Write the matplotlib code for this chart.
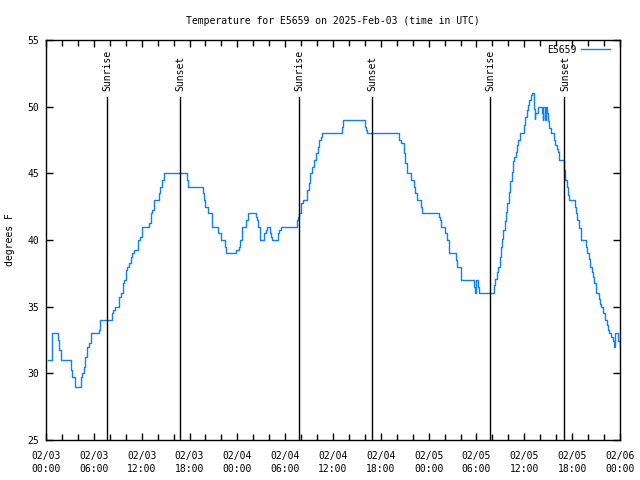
import matplotlib.pyplot as plt
from matplotlib.ticker import MultipleLocator

# hours since 2025-02-03 00:00 UTC and temperature (degrees F)
day1_hours = [0.2, 0.7, 0.8, 1.5, 1.65, 1.85, 3.15, 3.3, 3.6, 4.4,
              4.55, 4.75, 4.95, 5.15, 5.35, 5.6, 6.6, 6.8, 8.3, 8.4,
              8.6, 9.2, 9.4, 9.6, 9.8, 10.0, 10.2, 10.4, 10.6, 10.8,
              11.0, 11.6, 11.8, 12.04, 12.96, 13.13, 13.3, 13.55, 14.14, 14.3,
              14.55, 14.8, 17.65, 17.85, 19.65, 19.8, 20.0, 20.35, 20.8, 21.6,
              21.9, 22.4, 22.6, 23.8]
day1_temps = [31, 32, 33, 32.5, 31.75, 31, 30.25, 29.75, 29, 29.75,
              30, 30.5, 31.25, 32, 32.25, 33, 33.25, 34, 34.5, 34.75,
              35, 35.75, 36, 36.75, 37, 37.75, 38, 38.25, 38.75, 39,
              39.25, 40, 40.25, 41, 41.25, 42, 42.25, 43, 43.5, 44,
              44.5, 45, 44.5, 44, 43.5, 43, 42.5, 42, 41, 40.5,
              40, 39.5, 39, 39.25]

day2_hours = [24.2, 24.3, 24.6, 25.1, 25.4, 26.3, 26.5, 26.6, 26.85, 27.4,
              27.55, 27.7, 28.1, 28.2, 28.4, 29.15, 29.25, 29.45, 31.45, 31.55,
              31.7, 32.0, 32.2, 32.7, 32.8, 33.0, 33.1, 33.4, 33.6, 33.9,
              34.1, 34.3, 34.45, 34.65, 37.1, 37.3, 40.05, 40.15, 40.3, 44.3,
              44.5, 44.9, 45.05, 45.25, 45.8, 46.1, 46.3, 46.5, 47.0, 47.15]
day2_temps = [39.5, 40, 41, 41.5, 42, 41.75, 41.5, 41, 40, 40.5,
              40.75, 41, 40.5, 40.25, 40, 40.5, 40.75, 41, 41.5, 41.75,
              42, 42.75, 43, 43.5, 43.75, 44.25, 45, 45.5, 46, 46.5,
              47, 47.5, 47.75, 48, 48.5, 49, 48.5, 48.25, 48, 47.5,
              47.25, 46.5, 45.75, 45, 44.5, 44, 43.5, 43, 42.5, 42]

day3_hours = [49.3, 49.4, 49.6, 50.05, 50.25, 50.55, 51.4, 51.5, 52.1, 53.7,
              53.85, 53.95, 54.15, 54.35, 56.2, 56.35, 56.55, 56.7, 56.9, 57.05,
              57.2, 57.35, 57.55, 57.7, 57.85, 58.05, 58.2, 58.4, 58.55, 58.7,
              58.9, 59.05, 59.2, 59.4, 59.95, 60.1, 60.3, 60.45, 60.6, 60.8,
              60.9, 61.2, 61.3, 61.4, 61.7, 62.2, 62.3, 62.4, 62.55, 62.7,
              62.8, 62.95, 63.15, 63.3, 63.7, 63.9, 64.05, 64.25, 64.35, 65.0,
              65.15, 65.3, 65.5, 65.65, 66.3, 66.45, 66.65, 66.8, 67.05, 67.75,
              67.85, 68.05, 68.25, 68.5, 68.65, 68.8, 69.0, 69.35, 69.5, 69.65,
              69.9, 70.1, 70.35, 70.5, 70.65, 70.85, 71.1, 71.2, 71.4, 71.8,
              71.95, 72.0]
day3_temps = [41.75, 41.5, 41, 40.5, 40, 39, 38.5, 38, 37, 36.5,
              36, 37, 36.5, 36, 36.6, 37.1, 37.6, 38, 38.75, 39.5,
              40.1, 40.75, 41.4, 42.1, 42.75, 43.6, 44.4, 45.1, 45.9, 46.25,
              46.6, 47.1, 47.5, 48, 48.6, 49.25, 49.75, 50.1, 50.5, 50.9,
              51, 49.8, 49.1, 49.5, 50, 49.5, 49, 50, 49, 50,
              49.5, 48.9, 48.4, 48, 47.5, 47.1, 46.8, 46.6, 46, 45.25,
              44.5, 44, 43.4, 43, 42.5, 42, 41.5, 40.9, 40, 39.5,
              39, 38.6, 38, 37.6, 37.2, 36.75, 36, 35.6, 35.2, 35,
              34.5, 34, 33.6, 33.25, 33, 32.7, 32.4, 32, 33, 32.4,
              32, 32]

sunrise = [7.65, 31.7, 55.7]
sunset = [16.8, 40.9, 65.0]

tick_hours = list(range(0, 73, 6))
tick_labels = ["02/03\n00:00", "02/03\n06:00", "02/03\n12:00", "02/03\n18:00",
               "02/04\n00:00", "02/04\n06:00", "02/04\n12:00", "02/04\n18:00",
               "02/05\n00:00", "02/05\n06:00", "02/05\n12:00", "02/05\n18:00",
               "02/06\n00:00"]

hours = day1_hours + day2_hours + day3_hours
temps = day1_temps + day2_temps + day3_temps

plt.rcParams['font.family'] = ['DejaVu Sans Mono']
plt.rcParams['font.size'] = 7

fig = plt.figure(figsize=(6.4, 4.8), dpi=100)
ax = fig.add_axes([46 / 640, 40 / 480, 574 / 640, 400 / 480])

ax.plot(hours, temps, drawstyle='steps-post', color='#0a80ff', lw=1.0, label='E5659')

for h in sunrise:
    ax.axvline(h, ymax=0.8575, color='black', lw=1.0)
    ax.text(h + 0.1, 51.2, 'Sunrise', rotation=90, ha='center', va='bottom')
for h in sunset:
    ax.axvline(h, ymax=0.8575, color='black', lw=1.0)
    ax.text(h + 0.1, 51.2, 'Sunset', rotation=90, ha='center', va='bottom')

ax.set_xlim(0, 72)
ax.set_ylim(25, 55)
ax.set_xticks(tick_hours)
ax.set_xticklabels(tick_labels)
for lab in ax.get_xticklabels():
    lab.set_linespacing(1.4)
ax.xaxis.set_minor_locator(MultipleLocator(2))
ax.yaxis.set_major_locator(MultipleLocator(5))
ax.tick_params(direction='in', top=True, right=True, length=5, width=1, pad=5)
ax.tick_params(which='minor', direction='in', top=True, length=4, width=1)
ax.tick_params(axis='x', pad=8)
for s in ax.spines.values():
    s.set_linewidth(1.0)

ax.set_ylabel('degrees F')
ax.yaxis.set_label_coords(-31 / 574, 0.5)
ax.set_title('Temperature for E5659 on 2025-Feb-03 (time in UTC)', fontsize=7, pad=11.5)
ax.legend(loc='upper right', bbox_to_anchor=(1 - 6 / 574, 1 - 1 / 400),
          frameon=False, markerfirst=False, borderaxespad=0,
          handlelength=3.0, handletextpad=0.45)

fig.savefig('out.png', dpi=100)
